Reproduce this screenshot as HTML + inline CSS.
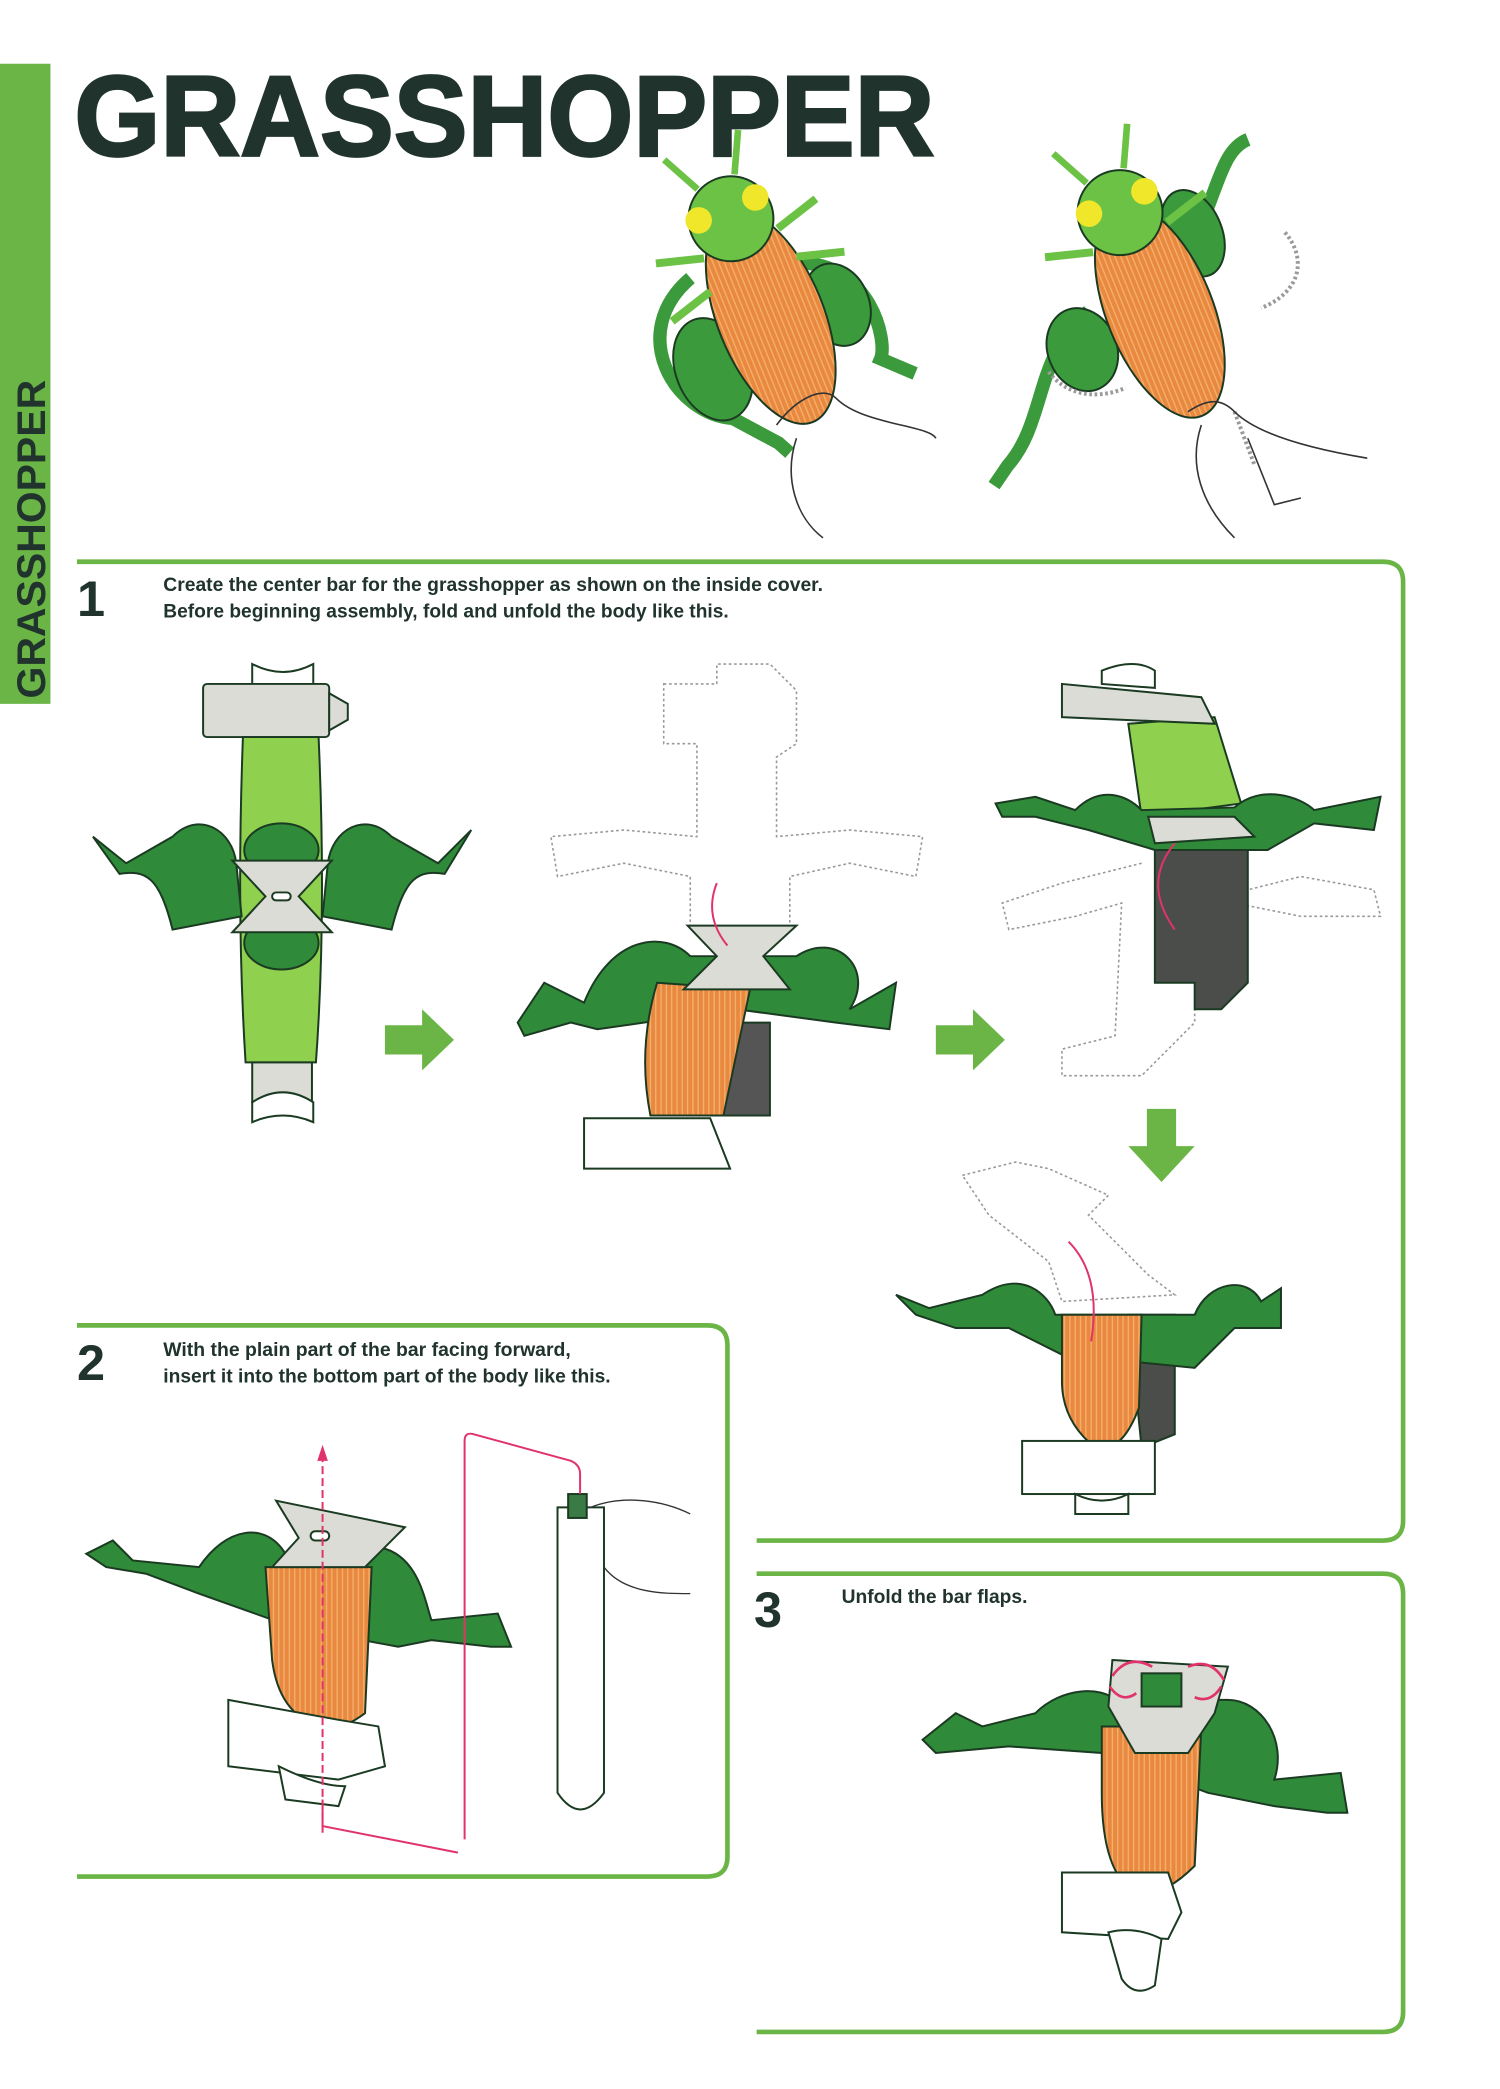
<!DOCTYPE html>
<html><head><meta charset="utf-8"><style>
html,body{margin:0;padding:0;background:#fff;width:1500px;height:2089px;overflow:hidden}
svg{display:block}
</style></head><body>
<svg width="1500" height="2089" viewBox="0 0 1130 1573" preserveAspectRatio="none" xmlns="http://www.w3.org/2000/svg">
<defs>
<pattern id="stripe" width="8" height="8" patternUnits="userSpaceOnUse"><rect width="8" height="8" fill="#e9893f"/><path d="M2 0V8M6 0V8" stroke="#f4b06e" stroke-width="1"/></pattern>
</defs>
<rect x="0" y="48" width="38" height="482" fill="#6ab545"/>
<text transform="translate(34,526) rotate(-90)" font-family="Liberation Sans, sans-serif" font-weight="bold" font-size="30" fill="#20332c" textLength="240" lengthAdjust="spacingAndGlyphs">GRASSHOPPER</text>
<text x="56" y="117" font-family="Liberation Sans, sans-serif" font-weight="bold" font-size="86" fill="#20332c" stroke="#20332c" stroke-width="2" textLength="648" lengthAdjust="spacingAndGlyphs">GRASSHOPPER</text>

<!-- top beetle 1 -->
<g transform="rotate(-22 575 225)" stroke="#1b3a22" stroke-width="1.5">
<path d="M530 190 C470 210 480 280 520 300 L545 330 L550 340" fill="none" stroke="#3b9a3b" stroke-width="10"/>
<path d="M610 210 C660 230 650 290 640 300 L660 320" fill="none" stroke="#3b9a3b" stroke-width="10"/>
<ellipse cx="520" cy="260" rx="28" ry="40" fill="#3b9a3b"/>
<ellipse cx="625" cy="250" rx="24" ry="32" fill="#3b9a3b"/>
<ellipse cx="575" cy="240" rx="40" ry="85" fill="url(#stripe)"/>
<circle cx="575" cy="160" r="32" fill="#6cc245"/>
<circle cx="552" cy="152" r="10" fill="#f0e62a" stroke="none"/>
<circle cx="598" cy="152" r="10" fill="#f0e62a" stroke="none"/>
<path d="M560 130 L545 100 M590 130 L605 100" stroke="#6cc245" stroke-width="5"/>
<path d="M545 180 L510 170 M605 180 L640 170 M540 205 L505 215 M610 205 L645 215" stroke="#6cc245" stroke-width="6"/>
</g>
<path d="M585 320 C600 300 620 290 630 300 C650 320 700 320 705 330 M600 330 C590 360 600 390 620 405" fill="none" stroke="#333" stroke-width="1.2"/>
<!-- top beetle 2 -->
<g transform="rotate(-22 870 225)" stroke="#1b3a22" stroke-width="1.5">
<path d="M820 215 C770 230 760 280 720 300 L705 310" fill="none" stroke="#3b9a3b" stroke-width="10"/>
<path d="M910 200 C950 160 960 140 980 140" fill="none" stroke="#3b9a3b" stroke-width="10"/>
<ellipse cx="805" cy="240" rx="26" ry="32" fill="#3b9a3b"/>
<ellipse cx="915" cy="190" rx="22" ry="34" fill="#3b9a3b"/>
<ellipse cx="870" cy="235" rx="40" ry="85" fill="url(#stripe)"/>
<circle cx="870" cy="155" r="32" fill="#6cc245"/>
<circle cx="848" cy="147" r="10" fill="#f0e62a" stroke="none"/>
<circle cx="893" cy="147" r="10" fill="#f0e62a" stroke="none"/>
<path d="M855 125 L840 95 M885 125 L900 95" stroke="#6cc245" stroke-width="5"/>
<path d="M840 175 L805 165 M900 175 L935 165" stroke="#6cc245" stroke-width="6"/>
</g>
<path d="M968 175 C985 195 980 220 950 232 M790 280 C805 300 830 300 848 292 M930 310 L945 350" fill="none" stroke="#999" stroke-width="3" stroke-dasharray="2 2"/>
<path d="M895 310 C910 300 920 300 930 310 C950 330 1000 340 1030 345 M905 320 C895 350 905 380 930 405 M940 330 L960 380 L980 375" fill="none" stroke="#333" stroke-width="1.2"/>

<!-- box lines -->
<g fill="none" stroke="#6ab545" stroke-width="3.5">
<path d="M58 423 H1042 Q1057 423 1057 438 V1145 Q1057 1160 1042 1160 H570"/>
<path d="M58 998 H533 Q548 998 548 1013 V1398 Q548 1413 533 1413 H58"/>
<path d="M570 1185 H1042 Q1057 1185 1057 1200 V1515 Q1057 1530 1042 1530 H570"/>
</g>
<g font-family="Liberation Sans, sans-serif" fill="#20332c" font-weight="bold">
<text x="58" y="464" font-size="38">1</text>
<text x="123" y="445" font-size="14.5" textLength="497" lengthAdjust="spacingAndGlyphs">Create the center bar for the grasshopper as shown on the inside cover.</text>
<text x="123" y="465" font-size="14.5" textLength="426" lengthAdjust="spacingAndGlyphs">Before beginning assembly, fold and unfold the body like this.</text>
<text x="58" y="1039" font-size="38">2</text>
<text x="123" y="1021" font-size="14.5" textLength="307" lengthAdjust="spacingAndGlyphs">With the plain part of the bar facing forward,</text>
<text x="123" y="1041" font-size="14.5" textLength="337" lengthAdjust="spacingAndGlyphs">insert it into the bottom part of the body like this.</text>
<text x="568" y="1225" font-size="38">3</text>
<text x="634" y="1207" font-size="14.5" textLength="140" lengthAdjust="spacingAndGlyphs">Unfold the bar flaps.</text>
</g>

<!-- step1 fig1 -->
<g stroke="#1b3a22" stroke-width="1.5">
<path d="M190 500 Q213 512 236 500 L236 520 L190 520Z" fill="#fff"/>
<rect x="153" y="515" width="95" height="40" rx="3" fill="#dcdcd6"/>
<path d="M248 522 L262 530 L262 542 L248 550Z" fill="#dcdcd6"/>
<path d="M183 555 Q178 690 185 800 L238 800 Q246 690 240 555Z" fill="#8fd14f"/>
<path d="M70 630 L95 650 L130 630 C150 610 175 625 178 650 L182 690 L130 700 C120 660 110 655 90 658Z" fill="#2f8a3a"/>
<path d="M355 625 L330 650 L295 630 C275 610 250 625 247 650 L243 690 L295 700 C305 660 315 655 335 658Z" fill="#2f8a3a"/>
<ellipse cx="212" cy="640" rx="28" ry="20" fill="#2f8a3a"/>
<ellipse cx="212" cy="710" rx="28" ry="20" fill="#2f8a3a"/>
<path d="M175 648 L250 648 L225 675 L250 702 L175 702 L200 675Z" fill="#dcdcd6"/>
<rect x="205" y="672" width="14" height="6" rx="3" fill="#fff"/>
<rect x="190" y="800" width="45" height="30" fill="#dcdcd6"/>
<path d="M190 830 Q213 815 236 830 L236 845 Q213 835 190 845Z" fill="#fff"/>
</g>
<path d="M290 772 H318 V760 L342 783 L318 806 V794 H290Z" fill="#6ab545"/>
<!-- step1 fig2 -->
<g fill="none" stroke="#999" stroke-width="1.2" stroke-dasharray="2 2">
<path d="M500 515 H540 V500 H580 L600 520 V560 L585 570 V630 L640 625 L695 630 L690 660 L640 650 L595 660 V700 H520 V660 L470 650 L420 660 L415 630 L470 625 L525 630 V560 H500Z"/>
</g>
<g stroke="#1b3a22" stroke-width="1.5">
<path d="M540 770 L580 770 L580 840 L545 840Z" fill="#555"/>
<path d="M390 770 L410 740 L440 755 C460 705 500 700 520 720 L600 720 C630 700 660 730 640 760 L675 740 L670 775 L630 770 L555 760 L450 775 L430 770 L395 780Z" fill="#2f8a3a"/>
<path d="M495 740 L565 745 L545 840 L490 840 Q480 790 495 740Z" fill="url(#stripe)"/>
<path d="M518 697 L600 697 L575 720 L595 745 L515 745 L540 720Z" fill="#dcdcd6"/>
<path d="M440 842 L535 842 L550 880 L440 880Z" fill="#fff"/>
</g>
<path d="M540 665 Q530 690 548 712" fill="none" stroke="#e0336b" stroke-width="1.5"/>
<path d="M705 772 H733 V760 L757 783 L733 806 V794 H705Z" fill="#6ab545"/>
<!-- step1 fig3 -->
<g fill="none" stroke="#999" stroke-width="1.2" stroke-dasharray="2 2">
<path d="M860 650 L800 665 L755 680 L760 700 L810 690 L845 680 L840 780 L800 790 L800 810 L860 810 L900 770 V680 L980 660 L1035 670 L1040 690 L980 690 L930 680"/>
</g>
<g stroke="#1b3a22" stroke-width="1.5">
<path d="M870 630 L940 630 L940 740 L920 760 L900 760 L900 740 L870 740Z" fill="#4a4d4a"/>
<path d="M850 545 L915 540 L935 605 L860 615Z" fill="#8fd14f"/>
<path d="M750 605 L780 600 L810 610 C830 590 850 600 860 610 L930 608 C950 590 980 600 990 610 L1040 600 L1035 625 L990 620 L955 640 L870 640 L820 625 L780 615 L755 615Z" fill="#2f8a3a"/>
<path d="M865 615 L930 615 L945 630 L870 635Z" fill="#dcdcd6"/>
<path d="M800 515 L905 525 L915 545 L800 540Z" fill="#dcdcd6"/>
<path d="M830 505 Q855 495 870 505 L870 518 L830 515Z" fill="#fff"/>
</g>
<path d="M885 635 Q860 665 885 700" fill="none" stroke="#e0336b" stroke-width="1.5"/>
<path d="M864 835 H886 V863 H900 L875 890 L850 863 H864Z" fill="#6ab545"/>
<!-- step1 fig4 -->
<g fill="none" stroke="#999" stroke-width="1.2" stroke-dasharray="2 2">
<path d="M725 885 L765 875 L790 880 L835 900 L820 915 L865 960 L885 975 L800 980 L790 950 L745 915 Z"/>
</g>
<g stroke="#1b3a22" stroke-width="1.5">
<path d="M850 990 L885 990 L885 1080 L860 1090Z" fill="#4a4d4a"/>
<path d="M675 975 L700 985 L740 975 C770 955 790 975 795 990 L900 990 C910 965 940 960 950 980 L965 970 L965 1000 L930 1000 L900 1030 L800 1020 L760 1000 L720 1000 L690 990Z" fill="#2f8a3a"/>
<path d="M800 990 L860 990 L858 1060 Q845 1095 825 1090 Q800 1070 800 1040Z" fill="url(#stripe)"/>
<rect x="770" y="1085" width="100" height="40" fill="#fff"/>
<path d="M810 1125 Q830 1135 850 1125 L850 1140 L810 1140Z" fill="#fff"/>
</g>
<path d="M805 935 Q830 960 822 1010" fill="none" stroke="#e0336b" stroke-width="1.5"/>

<!-- step2 -->
<g stroke="#1b3a22" stroke-width="1.5">
<path d="M65 1170 L85 1160 L100 1175 L150 1180 C170 1150 200 1145 215 1170 L285 1165 C315 1170 320 1205 325 1220 L375 1215 L385 1240 L370 1240 L325 1235 L300 1240 L220 1225 L150 1200 L110 1185 L80 1180Z" fill="#2f8a3a"/>
<path d="M200 1180 L280 1180 L275 1290 Q255 1305 240 1300 Q210 1290 205 1250Z" fill="url(#stripe)"/>
<path d="M208 1130 L305 1150 L275 1180 L205 1180 L225 1158Z" fill="#dcdcd6"/>
<rect x="234" y="1153" width="14" height="7" rx="3.5" fill="#fff"/>
<path d="M172 1280 L255 1295 L285 1300 L290 1330 L255 1340 L172 1330Z" fill="#fff"/>
<path d="M210 1330 Q240 1345 260 1345 L255 1360 L215 1355Z" fill="#fff"/>
<path d="M420 1135 L455 1135 L455 1350 Q437 1375 420 1350Z" fill="#fff"/>
<rect x="428" y="1125" width="14" height="18" fill="#3a7a45"/>
</g>
<path d="M243 1380 V1095" stroke="#e0336b" stroke-width="1.5" stroke-dasharray="6 3"/>
<path d="M243 1088 L239 1100 L247 1100Z" fill="#e0336b"/>
<path d="M350 1385 V1085 Q350 1078 357 1080 L430 1100 Q437 1103 437 1110 V1125 M243 1355 V1375 L345 1395" fill="none" stroke="#e0336b" stroke-width="1.5"/>
<path d="M445 1135 C470 1125 500 1130 520 1140 M455 1180 C470 1200 500 1200 520 1200" fill="none" stroke="#333" stroke-width="1"/>

<!-- step3 -->
<g stroke="#1b3a22" stroke-width="1.5">
<path d="M695 1310 L720 1290 L740 1300 L780 1290 C800 1270 830 1270 840 1280 L925 1280 C950 1280 970 1310 960 1340 L1010 1335 L1015 1365 L1000 1365 L960 1360 L910 1350 L830 1320 L760 1315 L705 1320Z" fill="#2f8a3a"/>
<path d="M830 1300 L905 1300 L900 1405 Q875 1430 855 1425 Q830 1410 830 1350Z" fill="url(#stripe)"/>
<path d="M838 1250 L925 1255 L915 1290 L895 1320 L855 1320 L835 1285Z" fill="#dcdcd6"/>
<rect x="860" y="1260" width="30" height="25" fill="#2f8a3a"/>
<path d="M800 1410 L880 1410 L890 1440 L880 1460 L800 1455Z" fill="#fff"/>
<path d="M835 1455 Q855 1450 875 1460 L870 1495 Q855 1505 845 1490Z" fill="#fff"/>
</g>
<path d="M838 1262 Q850 1245 868 1255 M895 1255 Q912 1248 922 1265 M836 1270 Q845 1283 856 1275 M900 1278 Q912 1283 920 1270" fill="none" stroke="#e0336b" stroke-width="2"/>
</svg>
</body></html>
